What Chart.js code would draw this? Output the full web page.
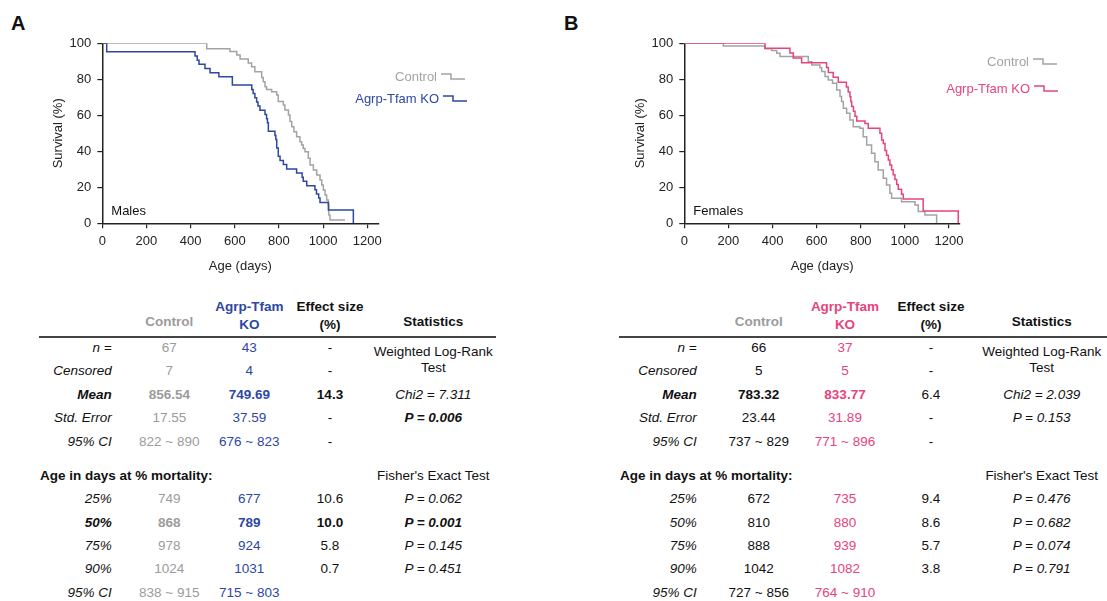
<!DOCTYPE html>
<html>
<head>
<meta charset="utf-8">
<script src="https://cdn.jsdelivr.net/npm/chart.js@4"></script>
<style>
  body { margin: 0; background: #fff; font-family: "Liberation Sans", Arial, sans-serif; }
  #page { position: relative; width: 1107px; height: 601px; overflow: hidden; }
  .box { position: absolute; top: 0; height: 290px; }
  .t { position: absolute; white-space: nowrap; line-height: 1; font-size: 13.5px; color: #111; }
  .letter { position: absolute; font-weight: bold; font-size: 20px; color: #111; }
  .rule { position: absolute; height: 2px; background: #444; }
</style>
</head>
<body>
<div id="page">
  <div class="letter" style="left:11px;top:12px">A</div>
  <div class="letter" style="left:564px;top:12px">B</div>
  <div class="box" style="left:0;width:480px"><canvas id="maleChart"></canvas></div>
  <div class="box" style="left:582px;width:500px"><canvas id="femaleChart"></canvas></div>
</div>
<script>
// survival curves (day, % surviving after that day)
const ctrlMaleDays = [0, 473, 578, 609, 624, 661, 676, 691, 722, 729, 737, 744, 767, 790, 797, 820, 827, 843, 850, 858, 868, 880, 895, 903, 910, 918, 933, 941, 956, 971, 986, 994, 1001, 1009, 1016, 1024, 1026, 1031, 1099];
const ctrlMaleSurv = [100, 97, 95.4, 93.5, 91.3, 89, 87, 84.2, 81, 78.7, 75.9, 74.4, 73.1, 71.3, 67.6, 65.7, 62.9, 60.2, 56.5, 53.7, 50.9, 48.1, 45.3, 43.5, 41.6, 39.8, 36.1, 32.4, 29.6, 26.8, 24.1, 21.3, 18.5, 15.7, 13, 10.2, 4.6, 1.9, 1.9];
const koMaleDays = [0, 20, 420, 430, 438, 465, 488, 528, 589, 677, 683, 691, 699, 705, 714, 737, 744, 748, 752, 782, 786, 790, 797, 805, 820, 835, 880, 905, 910, 926, 963, 970, 980, 986, 1024, 1137];
const koMaleSurv = [100, 95.3, 92.9, 90.6, 88.3, 86, 83.7, 81.4, 76.8, 74.4, 72.1, 69.8, 67.4, 65.1, 62.8, 60.5, 58.1, 55.8, 51.2, 48.8, 46.5, 41.9, 37.2, 34.9, 32.6, 30.2, 27.9, 25.6, 23.3, 20.9, 18.6, 16.3, 14, 11.6, 7.4, 0];

const ctrlFemaleDays = [0, 177, 366, 396, 419, 434, 562, 578, 615, 623, 638, 653, 672, 691, 706, 713, 721, 736, 751, 766, 796, 811, 827, 849, 864, 879, 902, 917, 932, 940, 985, 1046, 1061, 1091, 1144];
const ctrlFemaleSurv = [100, 98.5, 97, 96, 94.5, 92.6, 89.8, 87.9, 86.4, 84.3, 81.5, 79.6, 77.8, 74.1, 70.4, 67.6, 63.9, 61.1, 57.4, 53.7, 52.8, 48.1, 43.5, 38.9, 34.2, 29.6, 25, 21.3, 16.7, 13.9, 12, 10.2, 6.5, 4.6, 0];
const koFemaleDays = [0, 366, 479, 494, 532, 645, 653, 675, 698, 735, 743, 751, 755, 759, 767, 774, 782, 819, 834, 887, 895, 902, 910, 917, 925, 932, 940, 947, 955, 963, 970, 985, 993, 1083, 1242];
const koFemaleSurv = [100, 97.3, 94.6, 91.9, 89.2, 86.5, 83.8, 81.1, 78.4, 75.7, 73, 70.3, 67.6, 64.9, 62.2, 59.5, 56.8, 55.4, 52.8, 50, 46.3, 44.4, 40.5, 37.8, 35.1, 32.4, 29.7, 27, 24.3, 21.6, 18.9, 16.2, 13.5, 6.8, 0];

const xTicks = [0, 200, 400, 600, 800, 1000, 1200];

const GRAY = '#a3a3a3';
const GRAY_TEXT = '#9b9b9b';
const BLUE = '#2d47a3';
const PINK = '#e8437c';

const toPts = (xs, ys) => xs.map((d, i) => ({ x: d, y: ys[i] }));

// legend + sex label drawn on the canvas
const annotate = {
  id: 'annotate',
  afterDraw(chart, args, o) {
    const ctx = chart.ctx;
    const a = chart.chartArea;
    ctx.save();
    ctx.font = '13px "Liberation Sans", Arial, sans-serif';
    ctx.textBaseline = 'middle';
    ctx.textAlign = 'left';
    ctx.fillStyle = '#111';
    ctx.fillText(o.sex, a.left + 9, a.bottom - 12);
    o.items.forEach(it => {
      ctx.textAlign = 'right';
      ctx.fillStyle = it.color;
      ctx.fillText(it.text, it.x, it.y);
      ctx.strokeStyle = it.color;
      ctx.lineWidth = 1.5;
      ctx.beginPath();
      ctx.moveTo(it.x + 4, it.y - 3);
      ctx.lineTo(it.x + 14, it.y - 3);
      ctx.lineTo(it.x + 14, it.y + 2);
      ctx.lineTo(it.x + 28, it.y + 2);
      ctx.stroke();
    });
    ctx.restore();
  }
};

function makeChart(id, ko, ctrl, koColor, rightPad, annot) {
  const axisFont = { family: '"Liberation Sans", Arial, sans-serif', size: 13 };
  new Chart(document.getElementById(id), {
    type: 'line',
    data: {
      datasets: [
        { data: ko, borderColor: koColor, borderWidth: 1.5, pointRadius: 0, stepped: true, fill: false },
        { data: ctrl, borderColor: GRAY, borderWidth: 1.5, pointRadius: 0, stepped: true, fill: false }
      ]
    },
    options: {
      responsive: true,
      maintainAspectRatio: false,
      animation: false,
      layout: { padding: { top: 43.3, right: rightPad, left: 0, bottom: 0 } },
      plugins: { legend: { display: false }, tooltip: { enabled: false }, annotate: annot },
      scales: {
        x: {
          type: 'linear', min: 0, max: 1250,
          afterBuildTicks: s => { s.ticks = xTicks.map(v => ({ value: v })); },
          afterFit: s => { s.height = 66.7; },
          ticks: { color: '#222', font: axisFont, padding: 5, maxRotation: 0, callback: v => String(v) },
          grid: { drawOnChartArea: false, drawTicks: true, tickLength: 5, color: '#222', lineWidth: 1.2 },
          border: { color: '#222', width: 1.5 },
          title: { display: true, text: 'Age (days)', color: '#222', font: axisFont, padding: { bottom: 16 } }
        },
        y: {
          min: 0, max: 100,
          afterFit: s => { s.width = 102.3; },
          ticks: { stepSize: 20, color: '#222', font: axisFont, padding: 6 },
          grid: { drawOnChartArea: false, drawTicks: true, tickLength: 5, color: '#222', lineWidth: 1.2 },
          border: { color: '#222', width: 1.5 },
          title: { display: true, text: 'Survival (%)', color: '#222', font: axisFont, padding: { top: 50.5 } }
        }
      }
    },
    plugins: [annotate]
  });
}

makeChart('maleChart', toPts(koMaleDays, koMaleSurv), toPts(ctrlMaleDays, ctrlMaleSurv), BLUE, 101.7, {
  sex: 'Males',
  items: [
    { text: 'Control', color: GRAY, x: 437, y: 77 },
    { text: 'Agrp-Tfam KO', color: BLUE, x: 439, y: 99 }
  ]
});
makeChart('femaleChart', toPts(koFemaleDays, koFemaleSurv), toPts(ctrlFemaleDays, ctrlFemaleSurv), PINK, 122, {
  sex: 'Females',
  items: [
    { text: 'Control', color: GRAY, x: 447, y: 62 },
    { text: 'Agrp-Tfam KO', color: PINK, x: 448, y: 89 }
  ]
});

// ---- summary tables (text) ----
const rowY = [348, 371, 395, 418, 442];
const mortY = [499, 523, 546, 569, 593];
const topLabels = ['n =', 'Censored', '*Mean', 'Std. Error', '95% CI'];

const maleCtrl = ['67', '7', '*856.54', '17.55', '822 ~ 890'];
const maleKo = ['43', '4', '*749.69', '37.59', '676 ~ 823'];
const maleEff = ['-', '-', '*14.3', '-', '-'];
const maleStat = ['', '', 'Chi2 = 7.311', '*P = 0.006', ''];
const maleMortLabels = ['25%', '*50%', '75%', '90%', '95% CI'];
const maleMortCtrl = ['749', '*868', '978', '1024', '838 ~ 915'];
const maleMortKo = ['677', '*789', '924', '1031', '715 ~ 803'];
const maleMortEff = ['10.6', '*10.0', '5.8', '0.7', ''];
const maleMortP = ['P = 0.062', '*P = 0.001', 'P = 0.145', 'P = 0.451', ''];

const femaleCtrl = ['66', '5', '*783.32', '23.44', '737 ~ 829'];
const femaleKo = ['37', '5', '*833.77', '31.89', '771 ~ 896'];
const femaleEff = ['-', '-', '6.4', '-', '-'];
const femaleStat = ['', '', 'Chi2 = 2.039', 'P = 0.153', ''];
const femaleMortLabels = ['25%', '50%', '75%', '90%', '95% CI'];
const femaleMortCtrl = ['672', '810', '888', '1042', '727 ~ 856'];
const femaleMortKo = ['735', '880', '939', '1082', '764 ~ 910'];
const femaleMortEff = ['9.4', '8.6', '5.7', '3.8', ''];
const femaleMortP = ['P = 0.476', 'P = 0.682', 'P = 0.074', 'P = 0.791', ''];

const page = document.getElementById('page');
function put(text, x, y, align, color, italic) {
  if (!text) return;
  let bold = false;
  if (text[0] === '*') { bold = true; text = text.slice(1); }
  const d = document.createElement('div');
  d.className = 't';
  d.textContent = text;
  d.style.left = x + 'px';
  d.style.top = y + 'px';
  const tx = align === 'right' ? '-100%' : align === 'left' ? '0' : '-50%';
  d.style.transform = 'translate(' + tx + ',-50%)';
  d.style.color = color || '#111';
  if (bold) d.style.fontWeight = 'bold';
  if (italic) d.style.fontStyle = 'italic';
  page.appendChild(d);
}

function table(c, koColor, ctrlColor, ctrl, ko, eff, stat, mLabels, mCtrl, mKo, mEff, mP) {
  put('*Control', c.ctrl, 322, 'center', GRAY_TEXT);
  put('*Agrp-Tfam', c.ko, 307, 'center', koColor);
  put('*KO', c.ko, 325, 'center', koColor);
  put('*Effect size', c.eff, 307, 'center');
  put('*(%)', c.eff, 325, 'center');
  put('*Statistics', c.stat, 322, 'center');
  const r = document.createElement('div');
  r.className = 'rule';
  r.style.left = c.ruleL + 'px'; r.style.width = (c.ruleR - c.ruleL) + 'px'; r.style.top = '336px';
  page.appendChild(r);
  topLabels.forEach((l, i) => {
    put(l, c.label, rowY[i], 'right', '#111', true);
    put(ctrl[i], c.ctrl, rowY[i], 'center', ctrlColor);
    put(ko[i], c.ko, rowY[i], 'center', koColor);
    put(eff[i], c.eff, rowY[i], 'center');
    put(stat[i], c.stat, rowY[i], 'center', '#111', true);
  });
  put('Weighted Log-Rank', c.stat, 352, 'center');
  put('Test', c.stat, 368, 'center');
  put('*Age in days at % mortality:', c.ruleL + 1, 476, 'left');
  put("Fisher's Exact Test", c.stat, 476, 'center');
  mLabels.forEach((l, i) => {
    put(l, c.label, mortY[i], 'right', '#111', true);
    put(mCtrl[i], c.ctrl, mortY[i], 'center', ctrlColor);
    put(mKo[i], c.ko, mortY[i], 'center', koColor);
    put(mEff[i], c.eff, mortY[i], 'center');
    put(mP[i], c.stat, mortY[i], 'center', '#111', true);
  });
}

table({ label: 111.7, ctrl: 169.3, ko: 249.3, eff: 330, stat: 433.3, ruleL: 39, ruleR: 496 },
  BLUE, GRAY_TEXT, maleCtrl, maleKo, maleEff, maleStat,
  maleMortLabels, maleMortCtrl, maleMortKo, maleMortEff, maleMortP);
table({ label: 696.7, ctrl: 758.7, ko: 845, eff: 931, stat: 1041.7, ruleL: 619, ruleR: 1107 },
  PINK, '#111', femaleCtrl, femaleKo, femaleEff, femaleStat,
  femaleMortLabels, femaleMortCtrl, femaleMortKo, femaleMortEff, femaleMortP);
</script>
</body>
</html>
